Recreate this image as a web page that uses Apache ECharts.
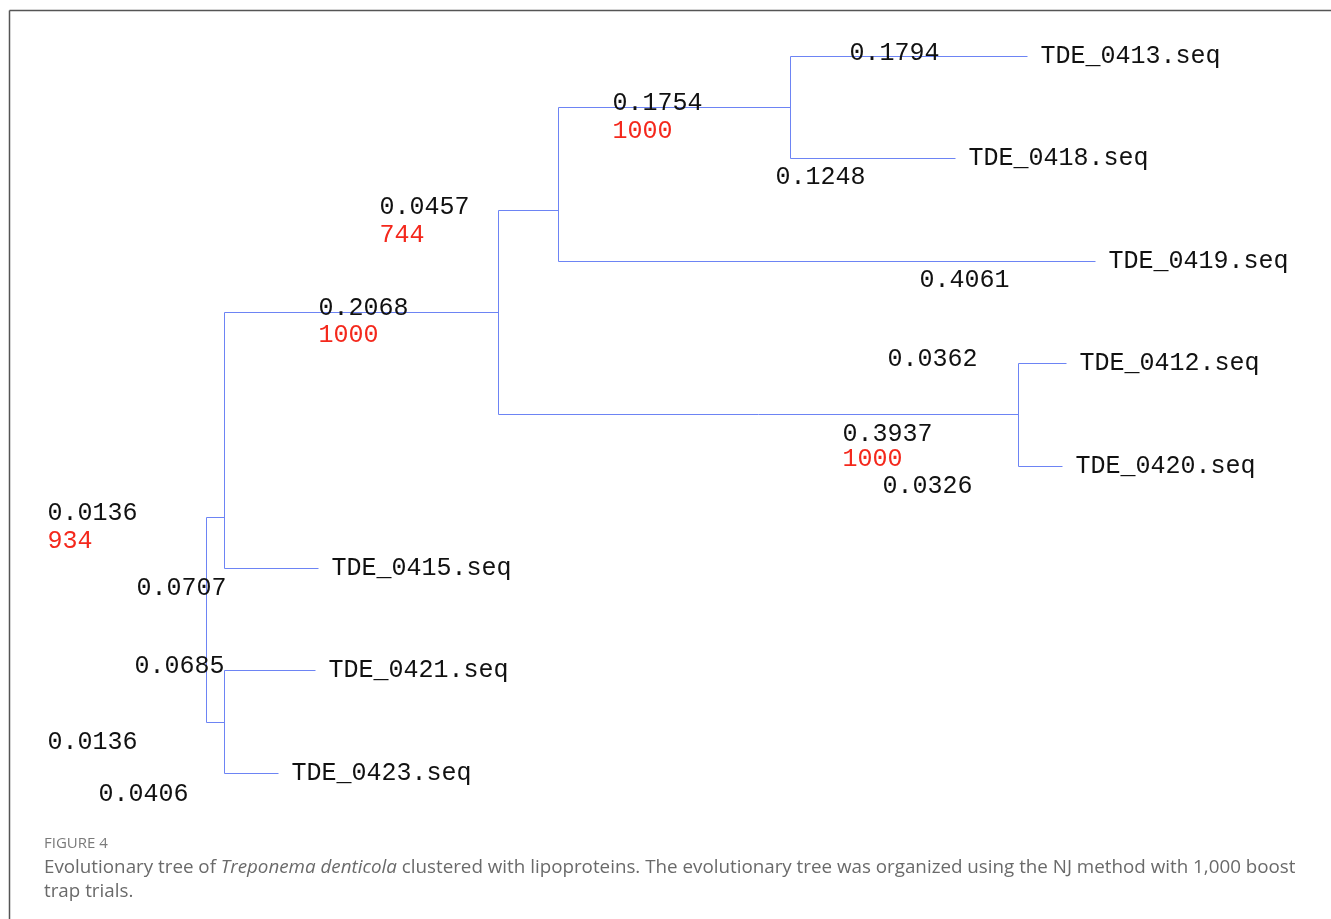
<!DOCTYPE html>
<html>
<head>
<meta charset="utf-8">
<script src="https://cdn.jsdelivr.net/npm/echarts@6/dist/echarts.min.js"></script>
<style>
  html, body { margin: 0; padding: 0; background: #fff; }
  #chart { width: 1331px; height: 919px; }
</style>
</head>
<body>
<div id="chart"></div>
<script>
// leaves, top to bottom
var taxa = ['TDE_0413.seq', 'TDE_0418.seq', 'TDE_0419.seq', 'TDE_0412.seq', 'TDE_0420.seq', 'TDE_0415.seq', 'TDE_0421.seq', 'TDE_0423.seq'];
var taxaLength = [0.1794, 0.1248, 0.4061, 0.0362, 0.0326, 0.0707, 0.0685, 0.0406];
var taxaParent = ['D', 'D', 'C', 'E', 'E', 'A', 'F', 'F'];
// internal nodes
var clades = ['root', 'A', 'B', 'C', 'D', 'E', 'F'];
var cladeParent = [null, 'root', 'A', 'B', 'C', 'B', 'root'];
var cladeLength = [0, 0.0136, 0.2068, 0.0457, 0.1754, 0.3937, 0.0136];
var bootstrap = [null, 934, 1000, 744, 1000, 1000, null];

// where the length label sits, px from the left end of its branch
var labelShift = {
  'TDE_0413.seq': [59, -3], 'TDE_0418.seq': [-15, 19], 'TDE_0419.seq': [361, 19],
  'TDE_0412.seq': [-131, -4], 'TDE_0420.seq': [-136, 20], 'TDE_0415.seq': [-88, 20],
  'TDE_0421.seq': [-90, -4], 'TDE_0423.seq': [-126, 21],
  'A': [-159, -4], 'B': [94, -4], 'C': [-119, -3], 'D': [54, -4], 'E': [344, 20], 'F': [-159, 20]
};
var bootShift = { 'A': 28, 'B': 27, 'C': 28, 'D': 28, 'E': 25 };

var lineColor = '#6d84f4';
var monoFont = '25px "Liberation Mono", "Courier New", monospace';

// build node table
var nodes = {};
clades.forEach(function (c, i) {
  nodes[c] = { name: c, parent: cladeParent[i], len: cladeLength[i], boot: bootstrap[i], kids: [], leaf: false };
});
taxa.forEach(function (t, i) {
  nodes[t] = { name: t, parent: taxaParent[i], len: taxaLength[i], kids: [], leaf: true, row: i };
});
clades.concat(taxa).forEach(function (k) {
  var p = nodes[k].parent;
  if (p) nodes[p].kids.push(k);
});
// keep children in leaf order
function firstRow(k) {
  var n = nodes[k];
  if (n.leaf) return n.row;
  return Math.min.apply(null, n.kids.map(firstRow));
}
function lastRow(k) {
  var n = nodes[k];
  if (n.leaf) return n.row;
  return Math.max.apply(null, n.kids.map(lastRow));
}
function layout(k, x) {
  var n = nodes[k];
  n.x = x + n.len;
  if (n.leaf) { n.y = n.row; return; }
  n.kids.sort(function (a, b) { return firstRow(a) - firstRow(b); });
  n.kids.forEach(function (c) { layout(c, n.x); });
  n.y = (lastRow(n.kids[0]) + firstRow(n.kids[1])) / 2;
  n.y0 = Math.min.apply(null, n.kids.map(function (c) { return nodes[c].y; }));
  n.y1 = Math.max.apply(null, n.kids.map(function (c) { return nodes[c].y; }));
}
layout('root', 0);

var order = clades.concat(taxa);
var seriesData = order.map(function (k) {
  var n = nodes[k];
  var px = n.parent ? nodes[n.parent].x : n.x;
  return [px, n.x, n.y, n.leaf ? n.y : n.y0, n.leaf ? n.y : n.y1];
});

// snap to pixel centres so 1px lines stay crisp
function crisp(p) { return [Math.round(p[0]) + 0.5, Math.round(p[1]) + 0.5]; }

function renderItem(params, api) {
  var n = nodes[order[params.dataIndex]];
  var kids = [];
  var a = crisp(api.coord([api.value(0), api.value(2)]));
  var b = crisp(api.coord([api.value(1), api.value(2)]));
  if (n.parent) {
    kids.push({ type: 'line', shape: { x1: a[0], y1: a[1], x2: b[0], y2: b[1] },
      style: { stroke: lineColor, lineWidth: 1 } });
    var s = labelShift[n.name];
    kids.push({ type: 'text', style: { text: n.len.toFixed(4), x: a[0] + s[0], y: a[1] + s[1],
      fill: '#111', font: monoFont, align: 'left', verticalAlign: 'middle' } });
    if (n.boot) {
      kids.push({ type: 'text', style: { text: String(n.boot), x: a[0] + s[0], y: a[1] + s[1] + bootShift[n.name],
        fill: '#f4281c', font: monoFont, align: 'left', verticalAlign: 'middle' } });
    }
  }
  if (!n.leaf) {
    var v0 = crisp(api.coord([api.value(1), api.value(3)]));
    var v1 = crisp(api.coord([api.value(1), api.value(4)]));
    kids.push({ type: 'line', shape: { x1: v0[0], y1: v0[1], x2: v1[0], y2: v1[1] },
      style: { stroke: lineColor, lineWidth: 1 } });
  } else {
    kids.push({ type: 'text', style: { text: n.name, x: b[0] + 13, y: b[1],
      fill: '#111', font: monoFont, align: 'left', verticalAlign: 'middle' } });
  }
  return { type: 'group', children: kids };
}

var chart = echarts.init(document.getElementById('chart'));
chart.setOption({
  animation: false,
  backgroundColor: '#fff',
  grid: { left: 206, top: 56, width: 1058.4, height: 716.8 },
  xAxis: { type: 'value', min: 0, max: 0.8, show: false },
  yAxis: { type: 'value', min: 0, max: 7, inverse: true, show: false },
  series: [{
    type: 'custom',
    silent: true,
    renderItem: renderItem,
    encode: { x: [0, 1], y: [2, 3, 4] },
    data: seriesData,
    clip: false
  }],
  graphic: [
    { type: 'line', shape: { x1: 9.5, y1: 10.5, x2: 1331, y2: 10.5 }, style: { stroke: '#555', lineWidth: 1.5 } },
    { type: 'line', shape: { x1: 9.5, y1: 10.5, x2: 9.5, y2: 919 }, style: { stroke: '#555', lineWidth: 1.5 } },
    { type: 'text', left: 44, top: 836, style: { text: 'FIGURE 4', fill: '#7a7a7a', font: '15px "Open Sans", sans-serif' } },
    { type: 'text', left: 44, top: 858, style: {
      text: 'Evolutionary tree of {i|Treponema denticola} clustered with lipoproteins. The evolutionary tree was organized using the NJ method with 1,000 boost',
      fill: '#6a6a6a', font: '18.8px "Open Sans", sans-serif',
      rich: { i: { fontStyle: 'italic', fontSize: 18.8, fontFamily: 'Open Sans', fill: '#6a6a6a' } }
    } },
    { type: 'text', left: 44, top: 882, style: { text: 'trap trials.', fill: '#6a6a6a', font: '18.8px "Open Sans", sans-serif' } }
  ]
});
</script>
</body>
</html>
